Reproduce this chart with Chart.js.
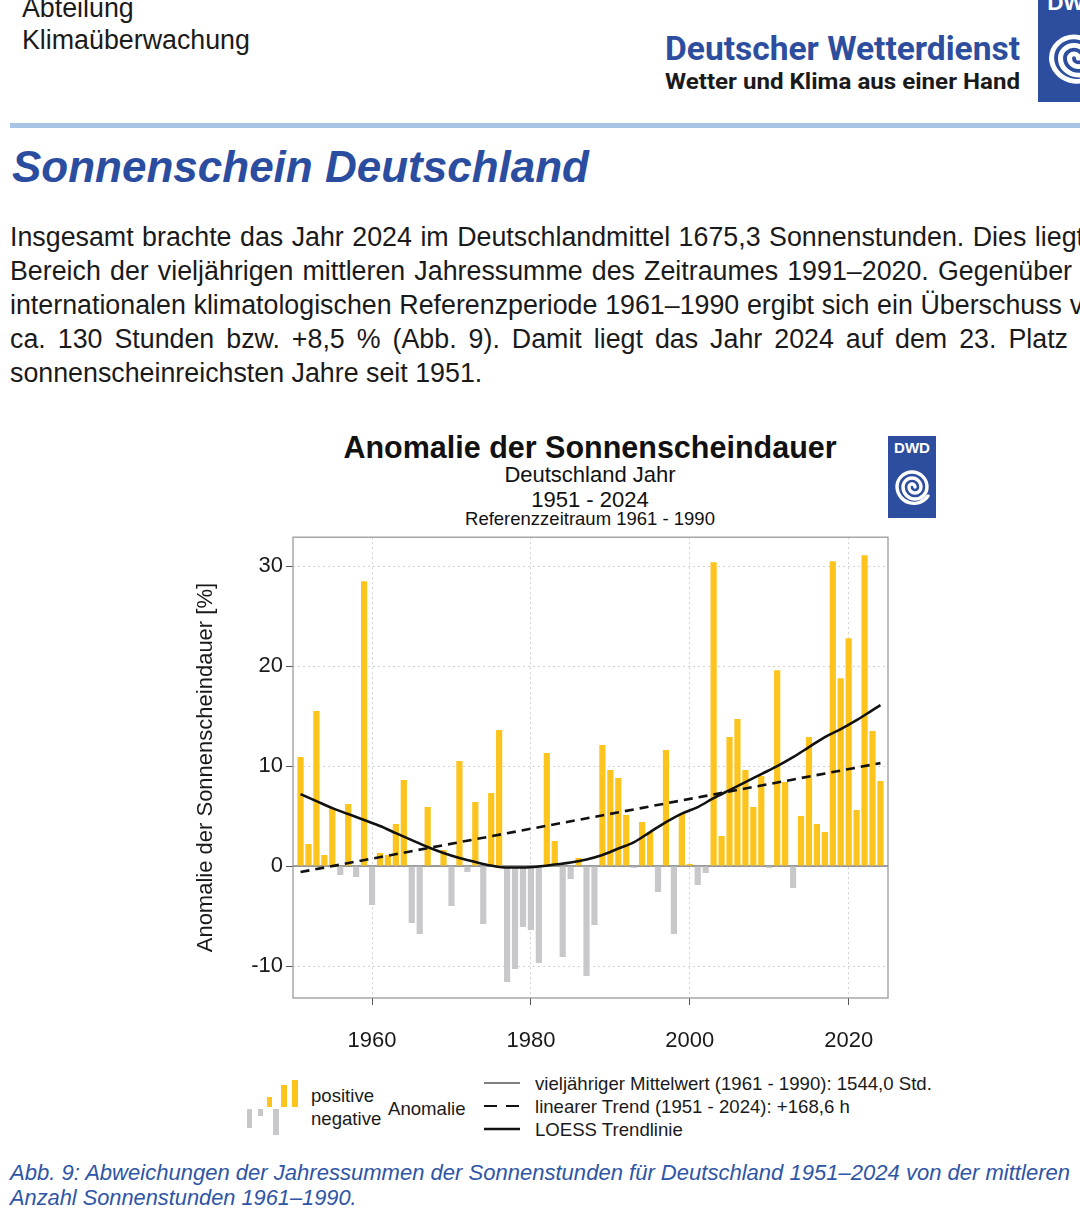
<!DOCTYPE html>
<html lang="de">
<head>
<meta charset="utf-8">
<title>Sonnenschein Deutschland</title>
<script src="https://cdn.jsdelivr.net/npm/chart.js@4.4.1/dist/chart.umd.min.js"></script>
<style>
  html, body { margin: 0; padding: 0; }
  body {
    width: 1080px; height: 1228px; overflow: hidden; position: relative;
    background: #fff; color: #1a1a1a;
    font-family: 'Liberation Sans', Arial, sans-serif;
  }
  .abs { position: absolute; white-space: nowrap; line-height: 1; }
  .dwd { font-family: Roboto, 'Liberation Sans', sans-serif; font-weight: 700; transform-origin: left top; display: inline-block; }
  .center { left: 290px; width: 600px; text-align: center; }
  .caption { font-style: italic; color: #2e55a6; font-size: 21.8px; left: 10px; transform-origin: left top; }
  #chartBox { position: absolute; left: 190px; top: 521px; width: 710px; height: 539px; }
</style>
</head>
<body>

<div class="abs" style="left:22px; top:-4.7px; font-size:26.8px;">Abteilung</div>
<div class="abs" style="left:22px; top:27.3px; font-size:26.8px;">Klimaüberwachung</div>

<div class="abs dwd" id="dwdName" style="left:665px; top:32px; font-size:33px; color:#2d4e9e;">Deutscher Wetterdienst</div>
<div class="abs dwd" id="dwdTag" style="left:665px; top:70.5px; font-size:22px; color:#1a1a1a;">Wetter und Klima aus einer Hand</div>
<div class="abs logo" style="left:1038px; top:-14px; width:72px; height:116px;"></div>

<div class="abs" style="left:10px; top:123px; width:1070px; height:5px; background:#a7c4e5;"></div>

<div class="abs" style="left:12px; top:144.8px; font-size:44px; font-weight:700; font-style:italic; color:#2b4da0;">Sonnenschein Deutschland</div>

<div id="para"></div>

<div class="abs center" style="top:432px; font-size:30.5px; font-weight:700; color:#111;">Anomalie der Sonnenscheindauer</div>
<div class="abs center" style="top:464.4px; font-size:22px; color:#111;">Deutschland Jahr</div>
<div class="abs center" style="top:489.4px; font-size:22px; color:#111;">1951 - 2024</div>
<div class="abs center" style="top:510.3px; font-size:18.5px; color:#111;">Referenzzeitraum 1961 - 1990</div>
<div class="abs logo" style="left:888px; top:436px; width:48px; height:82px;"></div>

<div id="chartBox"><canvas id="sunChart"></canvas></div>

<svg class="abs" style="left:0; top:1070px;" width="540" height="80">
  <rect x="267" y="27" width="5" height="10" fill="#fcc41c"/>
  <rect x="281" y="15" width="6" height="22" fill="#fcc41c"/>
  <rect x="292" y="10" width="6" height="27" fill="#fcc41c"/>
  <rect x="247" y="39" width="5" height="19" fill="#c8c8ca"/>
  <rect x="258" y="39" width="5" height="7" fill="#c8c8ca"/>
  <rect x="273" y="39" width="6" height="26" fill="#c8c8ca"/>
  <line x1="484" y1="13" x2="520" y2="13" stroke="#555" stroke-width="1.5"/>
  <line x1="484" y1="36" x2="520" y2="36" stroke="#111" stroke-width="2.2" stroke-dasharray="13 9"/>
  <line x1="484" y1="59" x2="520" y2="59" stroke="#111" stroke-width="2.6"/>
</svg>
<div class="abs" style="left:311px; top:1087px; font-size:18.6px;">positive</div>
<div class="abs" style="left:311px; top:1110px; font-size:18.6px;">negative</div>
<div class="abs" style="left:388px; top:1100px; font-size:18.6px;">Anomalie</div>
<div class="abs" style="left:535px; top:1075px; font-size:18.6px;">vieljähriger Mittelwert (1961 - 1990): 1544,0 Std.</div>
<div class="abs" style="left:535px; top:1098px; font-size:18.6px;">linearer Trend (1951 - 2024): +168,6 h</div>
<div class="abs" style="left:535px; top:1121px; font-size:18.6px;">LOESS Trendlinie</div>

<div class="abs caption" id="cap1" style="top:1161.5px;">Abb. 9: Abweichungen der Jahressummen der Sonnenstunden für Deutschland 1951–2024 von der mittleren</div>
<div class="abs caption" style="top:1186.5px;">Anzahl Sonnenstunden 1961–1990.</div>

<script>
// Jahre und Abweichung der Sonnenscheindauer vom Mittel 1961-1990 in %
const years = [
  1951, 1952, 1953, 1954, 1955, 1956, 1957, 1958, 1959, 1960,
  1961, 1962, 1963, 1964, 1965, 1966, 1967, 1968, 1969, 1970,
  1971, 1972, 1973, 1974, 1975, 1976, 1977, 1978, 1979, 1980,
  1981, 1982, 1983, 1984, 1985, 1986, 1987, 1988, 1989, 1990,
  1991, 1992, 1993, 1994, 1995, 1996, 1997, 1998, 1999, 2000,
  2001, 2002, 2003, 2004, 2005, 2006, 2007, 2008, 2009, 2010,
  2011, 2012, 2013, 2014, 2015, 2016, 2017, 2018, 2019, 2020,
  2021, 2022, 2023, 2024
];
const anomaly = [
  10.9, 2.2, 15.5, 1.1, 5.8, -0.9, 6.2, -1.1, 28.5, -3.9,
  1.3, 1.1, 4.2, 8.6, -5.7, -6.8, 5.9, 0.0, 1.6, -4.0,
  10.5, -0.6, 6.4, -5.8, 7.3, 13.6, -11.6, -10.3, -6.1, -6.4,
  -9.7, 11.3, 2.5, -9.1, -1.3, 0.8, -11.0, -5.9, 12.1, 9.6,
  8.8, 5.1, -0.2, 4.4, 3.4, -2.6, 11.6, -6.8, 5.3, 0.2,
  -1.9, -0.7, 30.4, 3.0, 12.9, 14.7, 9.6, 5.9, 9.0, -0.2,
  19.6, 8.4, -2.2, 5.0, 12.9, 4.2, 3.4, 30.5, 18.8, 22.8,
  5.6, 31.1, 13.5, 8.5
];
// LOESS-Trendlinie
const loessYears = [
  1951, 1953, 1955, 1957, 1959, 1961, 1963, 1965, 1967, 1969,
  1971, 1973, 1975, 1977, 1979, 1981, 1983, 1985, 1987, 1989,
  1991, 1993, 1995, 1997, 1999, 2001, 2003, 2005, 2007, 2009,
  2011, 2013, 2015, 2017, 2019, 2021, 2023, 2024
];
const loessValues = [
  7.2, 6.5, 5.8, 5.2, 4.6, 4.0, 3.3, 2.6, 1.9, 1.3,
  0.8, 0.4, 0.05, -0.15, -0.15, -0.05, 0.15, 0.35, 0.65, 1.1,
  1.75, 2.4, 3.4, 4.4, 5.25, 5.9, 6.8, 7.6, 8.4, 9.2,
  10.0, 10.9, 11.9, 12.9, 13.7, 14.6, 15.6, 16.1
];
// linearer Trend 1951-2024
const trendYears = [1951, 2024];
const trendValues = [-0.6, 10.3];

const xTicks = [1960, 1980, 2000, 2020];
const yTicks = [-10, 0, 10, 20, 30];

const paraLines = [
  { fit: 'Insgesamt brachte das Jahr 2024 im Deutschlandmittel 1675,3 Sonnenstunden. Dies liegt', tail: ' im', end: 1084 },
  { fit: 'Bereich der vieljährigen mittleren Jahressumme des Zeitraumes 1991–2020. Gegenüber', tail: ' der', end: 1072 },
  { fit: 'internationalen klimatologischen Referenzperiode 1961–1990 ergibt sich ein Überschuss', tail: ' von', end: 1062 },
  { fit: 'ca. 130 Stunden bzw. +8,5 % (Abb. 9). Damit liegt das Jahr 2024 auf dem 23. Platz', tail: ' der', end: 1068 },
  { fit: 'sonnenscheinreichsten Jahre seit 1951.', tail: '', end: null }
];

const logoSvg = `<svg width="100%" height="100%" viewBox="0 0 48 82" preserveAspectRatio="none">
  <rect width="48" height="82" fill="#2d4e9e"/>
  <text x="24" y="17" text-anchor="middle" font-family="Liberation Sans, Arial" font-weight="700" font-size="15" fill="#fff">DWD</text>
  <path d="M27 51 A3 3 0 0 0 21 51 A6 6 0 0 0 33 51 A9 9 0 0 0 15 51 A12 12 0 0 0 39 51 A15 15 0 0 0 9 51 A17 17 0 0 0 40 60"
        fill="none" stroke="#fff" stroke-width="3.4" stroke-linecap="round"/>
</svg>`;
document.querySelectorAll('.logo').forEach(el => { el.innerHTML = logoSvg; });

const para = document.getElementById('para');
paraLines.forEach((ln, i) => {
  const div = document.createElement('div');
  div.className = 'abs';
  div.style.left = '10px';
  div.style.top = (224.3 + i * 33.8) + 'px';
  div.style.fontSize = '26.8px';
  const fit = document.createElement('span');
  fit.textContent = ln.fit;
  div.appendChild(fit);
  if (ln.tail) {
    const t = document.createElement('span');
    t.textContent = ln.tail;
    div.appendChild(t);
  }
  para.appendChild(div);
  if (ln.end) {
    const w = fit.getBoundingClientRect().width;
    const gaps = ln.fit.split(' ').length - 1;
    div.style.wordSpacing = ((ln.end - 10 - w) / gaps) + 'px';
  }
});

function fitWidth(el, target) {
  const w = el.getBoundingClientRect().width;
  el.style.transform = `scaleX(${target / w})`;
}
fitWidth(document.getElementById('dwdName'), 355);
fitWidth(document.getElementById('dwdTag'), 355);
fitWidth(document.getElementById('cap1'), 1060);

const framePlugin = {
  id: 'frame',
  beforeDatasetsDraw(chart) {
    const { ctx, chartArea: a, scales: { y } } = chart;
    const y0 = y.getPixelForValue(0);
    ctx.save();
    ctx.strokeStyle = '#7a7a7a';
    ctx.lineWidth = 1.5;
    ctx.beginPath();
    ctx.moveTo(a.left, y0);
    ctx.lineTo(a.right, y0);
    ctx.stroke();
    ctx.restore();
  },
  afterDraw(chart) {
    const { ctx, chartArea: a } = chart;
    ctx.save();
    ctx.strokeStyle = '#9a9a9a';
    ctx.lineWidth = 1.3;
    ctx.strokeRect(a.left, a.top, a.right - a.left, a.bottom - a.top);
    ctx.restore();
  }
};

const axisFont = { family: "'Liberation Sans', Arial, sans-serif", size: 22 };

new Chart(document.getElementById('sunChart'), {
  type: 'bar',
  data: {
    datasets: [
      {
        type: 'line',
        data: loessYears.map((x, i) => ({ x, y: loessValues[i] })),
        borderColor: '#111',
        borderWidth: 2.6,
        pointRadius: 0,
        cubicInterpolationMode: 'monotone',
        order: 1
      },
      {
        type: 'line',
        data: trendYears.map((x, i) => ({ x, y: trendValues[i] })),
        borderColor: '#111',
        borderWidth: 2.6,
        borderDash: [9, 6],
        pointRadius: 0,
        order: 2
      },
      {
        type: 'bar',
        data: years.map((x, i) => ({ x, y: anomaly[i] })),
        backgroundColor: anomaly.map(v => v >= 0 ? '#fcc41c' : '#c8c8ca'),
        barPercentage: 1,
        categoryPercentage: 0.78,
        order: 3
      }
    ]
  },
  options: {
    responsive: true,
    maintainAspectRatio: false,
    animation: false,
    layout: { padding: { top: 0, right: 12, left: 0, bottom: 0 } },
    plugins: {
      legend: { display: false },
      tooltip: { enabled: false }
    },
    scales: {
      x: {
        type: 'linear',
        min: 1950.05,
        max: 2024.95,
        offset: false,
        afterBuildTicks: s => { s.ticks = xTicks.map(v => ({ value: v })); },
        afterFit: s => { s.height = 62; },
        ticks: { color: '#1a1a1a', font: axisFont, padding: 23, maxRotation: 0, callback: v => String(v) },
        grid: { offset: false, color: '#d2d2d2', lineWidth: 1, tickLength: 7, tickColor: '#555', tickWidth: 1 },
        border: { display: false, dash: [2, 3] }
      },
      y: {
        min: -13.2,
        max: 32.9,
        afterBuildTicks: s => { s.ticks = yTicks.map(v => ({ value: v })); },
        afterFit: s => { s.width = 103; },
        ticks: { color: '#1a1a1a', font: axisFont, padding: 3, callback: v => String(v) },
        grid: { color: '#d2d2d2', lineWidth: 1, tickLength: 7, tickColor: '#555', tickWidth: 1 },
        border: { display: false, dash: [2, 3] },
        title: {
          display: true,
          text: 'Anomalie der Sonnenscheindauer [%]',
          color: '#1a1a1a',
          font: axisFont,
          padding: { top: 3, bottom: 0 }
        }
      }
    }
  },
  plugins: [framePlugin]
});
</script>
</body>
</html>
